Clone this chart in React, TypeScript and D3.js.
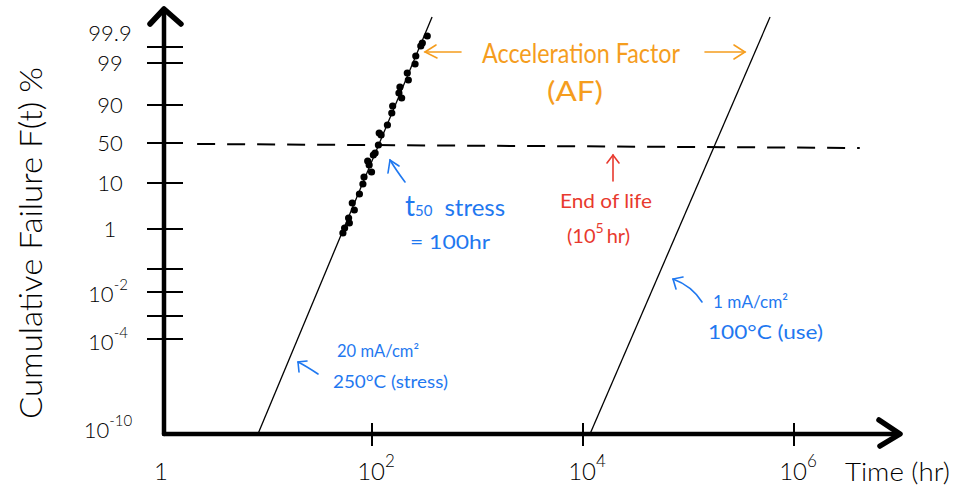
import React, { useEffect } from "react";
import * as d3 from "d3";

// time axis (hours, log scale)
const xTickValues = [1e2, 1e4, 1e6];
const xTickLabels = [
  { t: 1, base: "1", sup: "" },
  { t: 1e2, base: "10", sup: "2" },
  { t: 1e4, base: "10", sup: "4" },
  { t: 1e6, base: "10", sup: "6" },
];

// probability axis, hand-drawn spacing (plot units)
const yTickValues = [38.7, 37.1, 32.9, 29.1, 25.1, 20.5, 16.5, 14.2, 11.8, 9.5];
const yTickLabels = [
  { u: 40.1, base: "99.9", sup: "" },
  { u: 37.1, base: "99", sup: "" },
  { u: 32.9, base: "90", sup: "" },
  { u: 29.1, base: "50", sup: "" },
  { u: 25.1, base: "10", sup: "" },
  { u: 20.5, base: "1", sup: "" },
  { u: 14.0, base: "10", sup: "-2" },
  { u: 9.2, base: "10", sup: "-4" },
  { u: 0.4, base: "10", sup: "-10" },
];

// stress test failures (hours, plot units)
const stressHours = [334, 300, 290, 260, 256, 216, 221, 184, 180, 191, 157, 154, 140, 117, 122, 115, 107, 103, 91, 94, 99, 84, 82, 76, 65, 68, 60, 61, 55, 53];
const stressU = [39.8, 39.1, 38.8, 37.8, 37.0, 36.1, 35.4, 34.7, 34.1, 33.6, 32.8, 32.1, 30.9, 30.1, 29.9, 28.9, 28.1, 27.9, 27.3, 26.9, 26.2, 25.7, 25.0, 24.0, 23.1, 22.4, 21.6, 21.1, 20.6, 20.1];

// fitted lines
const stressLine = [{ t: 8.3, u: 0 }, { t: 371, u: 41.7 }];
const useLine = [{ t: 11650, u: 0 }, { t: 593000, u: 41.7 }];
const medianLine = [{ t: 2.2, u: 29 }, { t: 4.2e6, u: 28.6 }];

const W = 955;
const H = 491;
const FONT = "Lato, 'Open Sans', sans-serif";
const ORANGE = "#f59d1e";
const BLUE = "#1f78f0";
const RED = "#e8392e";

export default function App() {
  useEffect(() => {
    document.body.style.margin = "0";
  }, []);

  const x = d3.scaleLog().domain([1, 1e6]).range([161, 794]);
  const y = d3.scaleLinear().domain([0, 41.9]).range([434, 15]);
  const line = d3
    .line<{ t: number; u: number }>()
    .x((d) => x(d.t))
    .y((d) => y(d.u));

  const x0 = 164;
  const y0 = y(0);

  return (
    <svg width={W} height={H} style={{ display: "block", background: "#fff" }} fontFamily={FONT} fontWeight={300}>
      {/* axes */}
      <g stroke="#000" strokeWidth={4.5} strokeLinecap="round" strokeLinejoin="round" fill="none">
        <line x1={x0} y1={y0} x2={x0} y2={9} />
        <line x1={x0} y1={y0} x2={900} y2={y0} />
        <polyline points={`150,24 164,9 181,24`} strokeWidth={5.5} />
        <polyline points={`879,420 900,434 880,446`} strokeWidth={5.5} />
      </g>

      {/* y ticks */}
      <g stroke="#000" strokeWidth={2}>
        {yTickValues.map((v, i) => (
          <line key={i} x1={147} x2={183} y1={y(v)} y2={y(v)} />
        ))}
      </g>
      {/* x ticks */}
      <g stroke="#000" strokeWidth={2}>
        {xTickValues.map((v, i) => (
          <line key={i} x1={x(v)} x2={x(v)} y1={y0 - 11} y2={y0 + 12} />
        ))}
      </g>

      {/* y labels */}
      <g fontSize={22} textAnchor="middle" fill="#000">
        {yTickLabels.map((d, i) => (
          <text key={i} x={d.sup ? 108 : 110} y={y(d.u) + 8}>
            {d.base}
            {d.sup && (
              <tspan fontSize={15} dy={-12}>
                {d.sup}
              </tspan>
            )}
          </text>
        ))}
      </g>

      {/* x labels */}
      <g fontSize={24} textAnchor="middle" fill="#000">
        {xTickLabels.map((d, i) => (
          <text key={i} x={x(d.t) + (d.sup ? 4 : 0)} y={480}>
            {d.base}
            {d.sup && (
              <tspan fontSize={17} dy={-13}>
                {d.sup}
              </tspan>
            )}
          </text>
        ))}
      </g>
      <text x={845} y={481} fontSize={25} fill="#000" textLength={105} lengthAdjust="spacingAndGlyphs">
        Time (hr)
      </text>
      <text
        transform="translate(42,243) rotate(-90)"
        fontSize={31}
        textAnchor="middle"
        fill="#000"
        textLength={352}
        lengthAdjust="spacingAndGlyphs"
      >
        Cumulative Failure F(t) %
      </text>

      {/* lines */}
      <path d={line(stressLine) || ""} stroke="#000" strokeWidth={1.3} fill="none" />
      <path d={line(useLine) || ""} stroke="#000" strokeWidth={1.3} fill="none" />
      <path d={line(medianLine) || ""} stroke="#000" strokeWidth={2} strokeDasharray="18 12" fill="none" />

      {/* data points */}
      <g fill="#000">
        {stressHours.map((t, i) => (
          <circle key={i} cx={x(t)} cy={y(stressU[i])} r={3.6} />
        ))}
      </g>

      {/* Acceleration factor */}
      <g stroke={ORANGE} strokeWidth={1.6} fill="none" strokeLinecap="round">
        <line x1={425} y1={52} x2={461} y2={52} />
        <polyline points="436,45 425,52 437,58" />
        <line x1={705} y1={52} x2={745} y2={52} />
        <polyline points="734,45 745,52 734,59" />
      </g>
      <g fill={ORANGE} fontSize={26} fontWeight={400}>
        <text x={482} y={63} textLength={198} lengthAdjust="spacingAndGlyphs">
          Acceleration Factor
        </text>
        <text x={547} y={101} textLength={56} lengthAdjust="spacingAndGlyphs">
          (AF)
        </text>
      </g>

      {/* t50 stress */}
      <g stroke={BLUE} strokeWidth={1.6} fill="none" strokeLinecap="round">
        <path d="M405,182 Q396,170 390,160" />
        <polyline points="388,173 390,160 399,166" />
        <path d="M318,374 Q306,366 298,362" />
        <polyline points="299,372 298,362 307,361" />
        <path d="M702,302 Q692,286 673,279" />
        <polyline points="676,289 673,279 683,277" />
      </g>
      <g fill={BLUE} fontWeight={400}>
        <text x={405} y={216} fontSize={28}>
          t
          <tspan fontSize={15} dy={0}>
            50
          </tspan>
          <tspan fontSize={24} dx={12}>
            stress
          </tspan>
        </text>
        <text x={410} y={249} fontSize={20} textLength={80} lengthAdjust="spacingAndGlyphs">
          = 100hr
        </text>
        <text x={337} y={357} fontSize={17} textLength={82} lengthAdjust="spacingAndGlyphs">
          20 mA/cm²
        </text>
        <text x={333} y={388} fontSize={18} textLength={115} lengthAdjust="spacingAndGlyphs">
          250°C (stress)
        </text>
        <text x={713} y={308} fontSize={18} textLength={75} lengthAdjust="spacingAndGlyphs">
          1 mA/cm²
        </text>
        <text x={708} y={339} fontSize={20} textLength={115} lengthAdjust="spacingAndGlyphs">
          100°C (use)
        </text>
      </g>

      {/* end of life */}
      <g stroke={RED} strokeWidth={1.6} fill="none" strokeLinecap="round">
        <line x1={613} y1={181} x2={613} y2={155} />
        <polyline points="607,163 613,155 619,163" />
      </g>
      <g fill={RED} fontSize={20} fontWeight={400}>
        <text x={560} y={208} textLength={92} lengthAdjust="spacingAndGlyphs">
          End of life
        </text>
        <text x={567} y={243}>
          (10
          <tspan fontSize={14} dy={-10}>
            5
          </tspan>
          <tspan dy={10} dx={3}>
            hr)
          </tspan>
        </text>
      </g>
    </svg>
  );
}
